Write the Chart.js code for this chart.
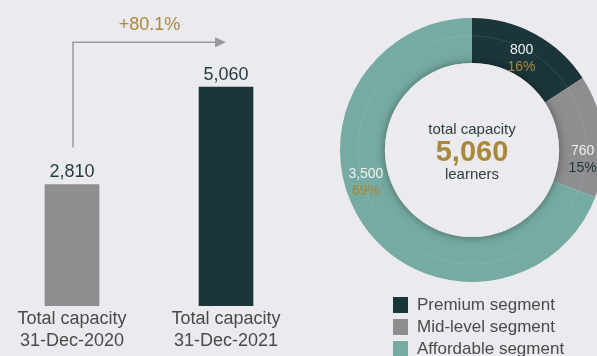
<!DOCTYPE html>
<html>
<head>
<meta charset="utf-8">
<script src="https://cdn.jsdelivr.net/npm/chart.js@4/dist/chart.umd.min.js"></script>
<style>
  html, body { margin: 0; padding: 0; background: #ebebef; overflow: hidden; width: 597px; height: 356px; }
  #wrap { position: relative; width: 597px; height: 356px; overflow: hidden; }
  #barChart { position: absolute; left: -5px; top: 0; }
  #donutChart { position: absolute; left: 322px; top: 0; }
</style>
</head>
<body>
<div id="wrap">
  <canvas id="barChart" width="308" height="356"></canvas>
  <canvas id="donutChart" width="300" height="356"></canvas>
</div>
<script>
// capacity, year over year
const barLabels = [['Total capacity', '31-Dec-2020'], ['Total capacity', '31-Dec-2021']];
const barValues = [2810, 5060];
const growthLabel = '+80.1%';

// capacity by segment
const segmentNames = ['Premium segment', 'Mid-level segment', 'Affordable segment'];
const segmentValues = [800, 760, 3500];
const segmentPct = ['16%', '15%', '69%'];
const totalLabel = '5,060';

const FONT = '"Liberation Sans", Arial, sans-serif';
const BG = '#ebebef';
const DARK = '#1b363a';
const GREY = '#8e8e90';
const TEAL = '#75aba2';
const GOLD = '#a8883a';

const fmt = v => v.toLocaleString('en-US');

// value labels + growth arrow over the bars
const barDecor = {
  id: 'barDecor',
  afterDatasetsDraw(chart) {
    const ctx = chart.ctx;
    const bars = chart.getDatasetMeta(0).data;
    ctx.save();
    ctx.font = '18px ' + FONT;
    ctx.fillStyle = '#1e3a3e';
    ctx.textAlign = 'center';
    ctx.textBaseline = 'middle';
    bars.forEach((b, i) => ctx.fillText(fmt(barValues[i]), b.x, b.y - 12));

    const x0 = bars[0].x + 1, x1 = bars[1].x;
    const yStart = bars[0].y - 37, yTop = bars[1].y - 45;
    ctx.strokeStyle = '#9a9a9c';
    ctx.lineWidth = 1.5;
    ctx.beginPath();
    ctx.moveTo(x0, yStart);
    ctx.lineTo(x0, yTop);
    ctx.lineTo(x1 - 8, yTop);
    ctx.stroke();
    ctx.fillStyle = '#9a9a9c';
    ctx.beginPath();
    ctx.moveTo(x1, yTop);
    ctx.lineTo(x1 - 11, yTop - 5);
    ctx.lineTo(x1 - 11, yTop + 5);
    ctx.closePath();
    ctx.fill();

    ctx.fillStyle = GOLD;
    ctx.font = '18px ' + FONT;
    ctx.fillText(growthLabel, (x0 + x1) / 2, yTop - 17);
    ctx.restore();
  }
};

new Chart(document.getElementById('barChart'), {
  type: 'bar',
  data: {
    labels: barLabels,
    datasets: [{
      data: barValues,
      backgroundColor: [GREY, DARK],
      barThickness: 54,
      borderWidth: 0
    }]
  },
  options: {
    responsive: false,
    animation: false,
    devicePixelRatio: 1,
    layout: { padding: { top: 40, bottom: 2, left: 0, right: 0 } },
    plugins: { legend: { display: false }, tooltip: { enabled: false } },
    scales: {
      y: { display: false, min: 0, max: 6150 },
      x: {
        grid: { display: false, drawTicks: false },
        border: { display: false },
        ticks: {
          padding: 2,
          color: '#4a4a4a',
          font: { family: FONT, size: 18, lineHeight: 1.22 }
        }
      }
    }
  },
  plugins: [barDecor]
});

// label spots inside each arc: fraction along the arc, radius
const labelSpots = [{ f: 0.5, r: 104 }, { f: 0.7, r: 111 }, { f: 0.57, r: 111 }];
const labelColors = [['#eef0f0', GOLD], ['#eeeeee', DARK], ['#eef2f1', GOLD]];

const donutDecor = {
  id: 'donutDecor',
  afterDatasetsDraw(chart) {
    const ctx = chart.ctx;
    const arcs = chart.getDatasetMeta(0).data;
    const a0 = arcs[0];
    const cx = a0.x, cy = a0.y, rIn = a0.innerRadius, rOut = a0.outerRadius;
    ctx.save();

    // faint guide ring inside the band
    ctx.strokeStyle = 'rgba(255,255,255,0.09)';
    ctx.lineWidth = 1;
    ctx.beginPath();
    ctx.arc(cx, cy, rIn + (rOut - rIn) * 0.6, 0, Math.PI * 2);
    ctx.stroke();

    // raised centre disc
    ctx.shadowColor = 'rgba(0,0,0,0.4)';
    ctx.shadowBlur = 10;
    ctx.fillStyle = BG;
    ctx.beginPath();
    ctx.arc(cx, cy, rIn, 0, Math.PI * 2);
    ctx.fill();
    ctx.shadowColor = 'transparent';
    ctx.shadowBlur = 0;

    // segment values
    ctx.textAlign = 'center';
    ctx.textBaseline = 'middle';
    arcs.forEach((arc, i) => {
      const s = labelSpots[i];
      const ang = arc.startAngle + (arc.endAngle - arc.startAngle) * s.f;
      const x = cx + Math.cos(ang) * s.r;
      const y = cy + Math.sin(ang) * s.r;
      ctx.font = '14px ' + FONT;
      ctx.fillStyle = labelColors[i][0];
      ctx.fillText(fmt(segmentValues[i]), x, y - 8);
      ctx.fillStyle = labelColors[i][1];
      ctx.fillText(segmentPct[i], x, y + 9);
    });

    // centre text
    ctx.fillStyle = '#2c3e42';
    ctx.font = '15px ' + FONT;
    ctx.fillText('total capacity', cx, cy - 20);
    ctx.fillText('learners', cx, cy + 25);
    ctx.fillStyle = GOLD;
    ctx.font = 'bold 29px ' + FONT;
    ctx.fillText(totalLabel, cx, cy + 3);

    // legend
    const colors = chart.data.datasets[0].backgroundColor;
    segmentNames.forEach((name, i) => {
      const y = 297 + i * 22;
      ctx.fillStyle = colors[i];
      ctx.fillRect(71, y, 15, 16);
      ctx.fillStyle = '#4a4a4a';
      ctx.font = '17px ' + FONT;
      ctx.textAlign = 'left';
      ctx.fillText(name, 95, y + 8.5);
    });
    ctx.restore();
  }
};

new Chart(document.getElementById('donutChart'), {
  type: 'doughnut',
  data: {
    labels: segmentNames,
    datasets: [{
      data: segmentValues,
      backgroundColor: [DARK, GREY, TEAL],
      borderWidth: 0
    }]
  },
  options: {
    responsive: false,
    animation: false,
    devicePixelRatio: 1,
    cutout: '66%',
    layout: { padding: { top: 18, left: 18, right: 18, bottom: 74 } },
    plugins: { legend: { display: false }, tooltip: { enabled: false } }
  },
  plugins: [donutDecor]
});
</script>
</body>
</html>
